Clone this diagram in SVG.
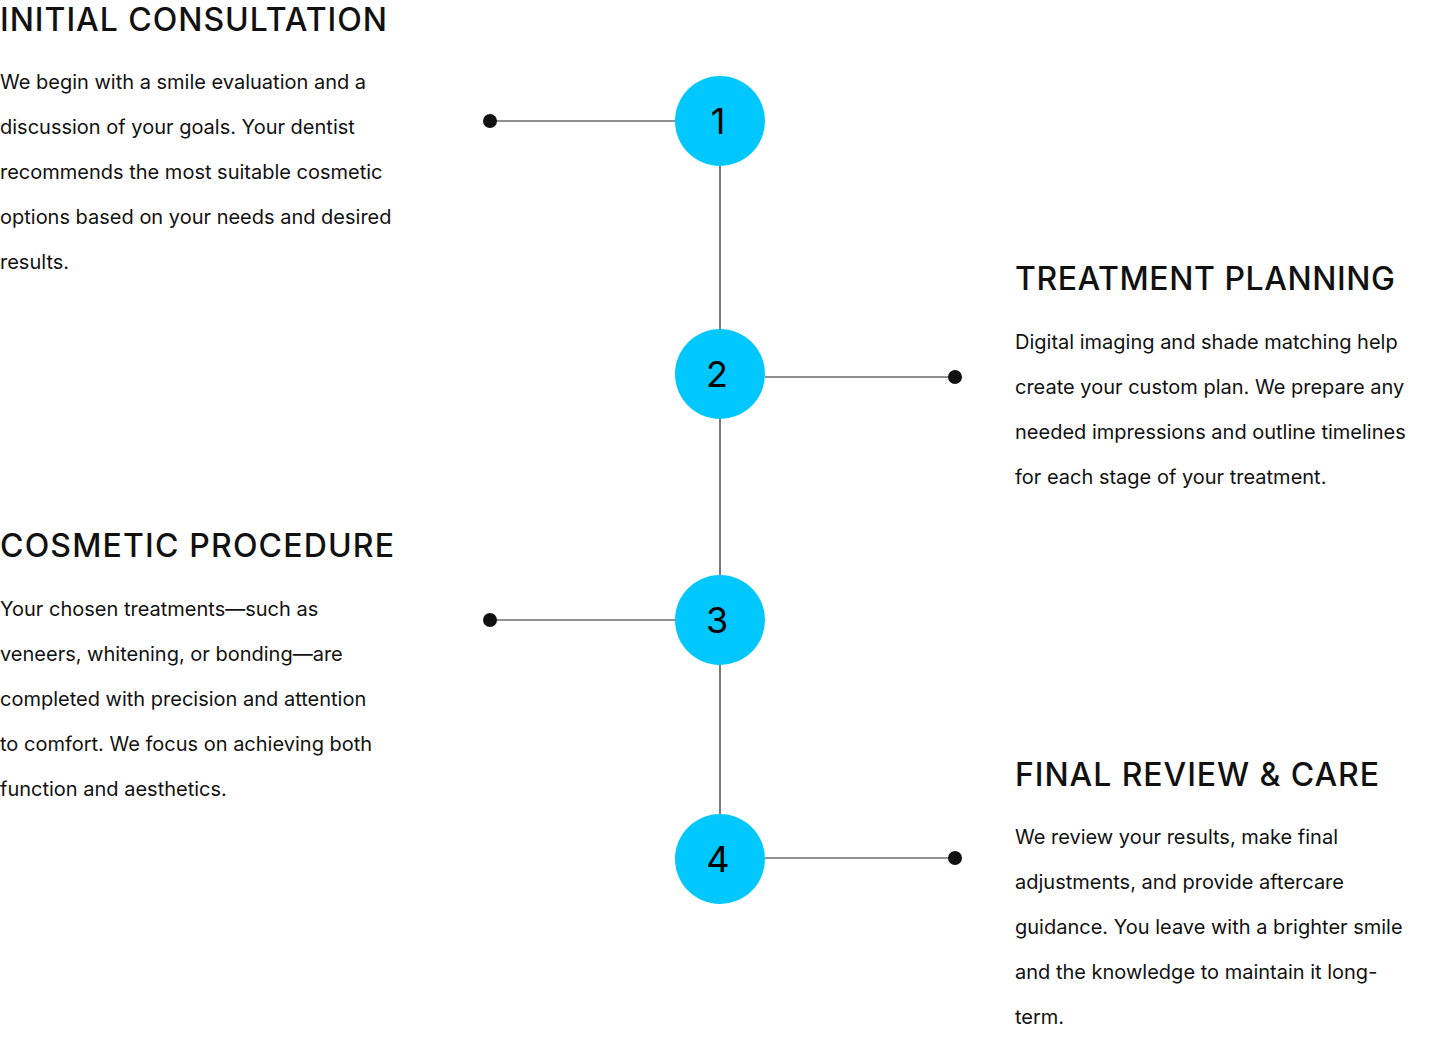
<svg xmlns="http://www.w3.org/2000/svg" width="1453" height="1049" viewBox="0 0 1453 1049">
<style>
.t{font-family:Inter,"Open Sans",sans-serif;font-size:32px;font-weight:500;fill:#111}
.b{font-family:Inter,"Open Sans",sans-serif;font-size:20px;fill:#111}
.n{font-family:Inter,"Open Sans",sans-serif;font-size:36px;fill:#000;text-anchor:middle}
.c{fill:#00C8FF}
.l{stroke:#222;stroke-width:1.2;fill:none}
.d{fill:#111}
</style>
<rect width="1453" height="1049" fill="#fff"/>
<g id="connectors">
<line class="l" x1="720" y1="121" x2="720" y2="859"/>
<line class="l" x1="490" y1="121" x2="675" y2="121"/>
<line class="l" x1="765" y1="377" x2="955" y2="377"/>
<line class="l" x1="490" y1="620" x2="675" y2="620"/>
<line class="l" x1="765" y1="858" x2="955" y2="858"/>
<circle class="d" cx="490" cy="121" r="7"/>
<circle class="d" cx="955" cy="377" r="7"/>
<circle class="d" cx="490" cy="620" r="7"/>
<circle class="d" cx="955" cy="858" r="7"/>
</g>
<g id="step1">
<circle class="c" cx="720" cy="121" r="45"/><text class="n" x="718" y="134">1</text>
<text class="t" x="0" y="31" textLength="387">INITIAL CONSULTATION</text>
<text class="b" x="0" y="89">We begin with a smile evaluation and a</text>
<text class="b" x="0" y="134">discussion of your goals. Your dentist</text>
<text class="b" x="0" y="179">recommends the most suitable cosmetic</text>
<text class="b" x="0" y="224">options based on your needs and desired</text>
<text class="b" x="0" y="269">results.</text>
</g>
<g id="step2">
<circle class="c" cx="720" cy="374" r="45"/><text class="n" x="717" y="387">2</text>
<text class="t" x="1015" y="290" textLength="380">TREATMENT PLANNING</text>
<text class="b" x="1015" y="349">Digital imaging and shade matching help</text>
<text class="b" x="1015" y="394">create your custom plan. We prepare any</text>
<text class="b" x="1015" y="439">needed impressions and outline timelines</text>
<text class="b" x="1015" y="484">for each stage of your treatment.</text>
</g>
<g id="step3">
<circle class="c" cx="720" cy="620" r="45"/><text class="n" x="717" y="633">3</text>
<text class="t" x="0" y="557" textLength="394">COSMETIC PROCEDURE</text>
<text class="b" x="0" y="616">Your chosen treatments—such as</text>
<text class="b" x="0" y="661">veneers, whitening, or bonding—are</text>
<text class="b" x="0" y="706">completed with precision and attention</text>
<text class="b" x="0" y="751">to comfort. We focus on achieving both</text>
<text class="b" x="0" y="796">function and aesthetics.</text>
</g>
<g id="step4">
<circle class="c" cx="720" cy="859" r="45"/><text class="n" x="718" y="872">4</text>
<text class="t" x="1015" y="786" textLength="364">FINAL REVIEW &amp; CARE</text>
<text class="b" x="1015" y="844">We review your results, make final</text>
<text class="b" x="1015" y="889">adjustments, and provide aftercare</text>
<text class="b" x="1015" y="934">guidance. You leave with a brighter smile</text>
<text class="b" x="1015" y="979">and the knowledge to maintain it long-</text>
<text class="b" x="1015" y="1024">term.</text>
</g>
</svg>
